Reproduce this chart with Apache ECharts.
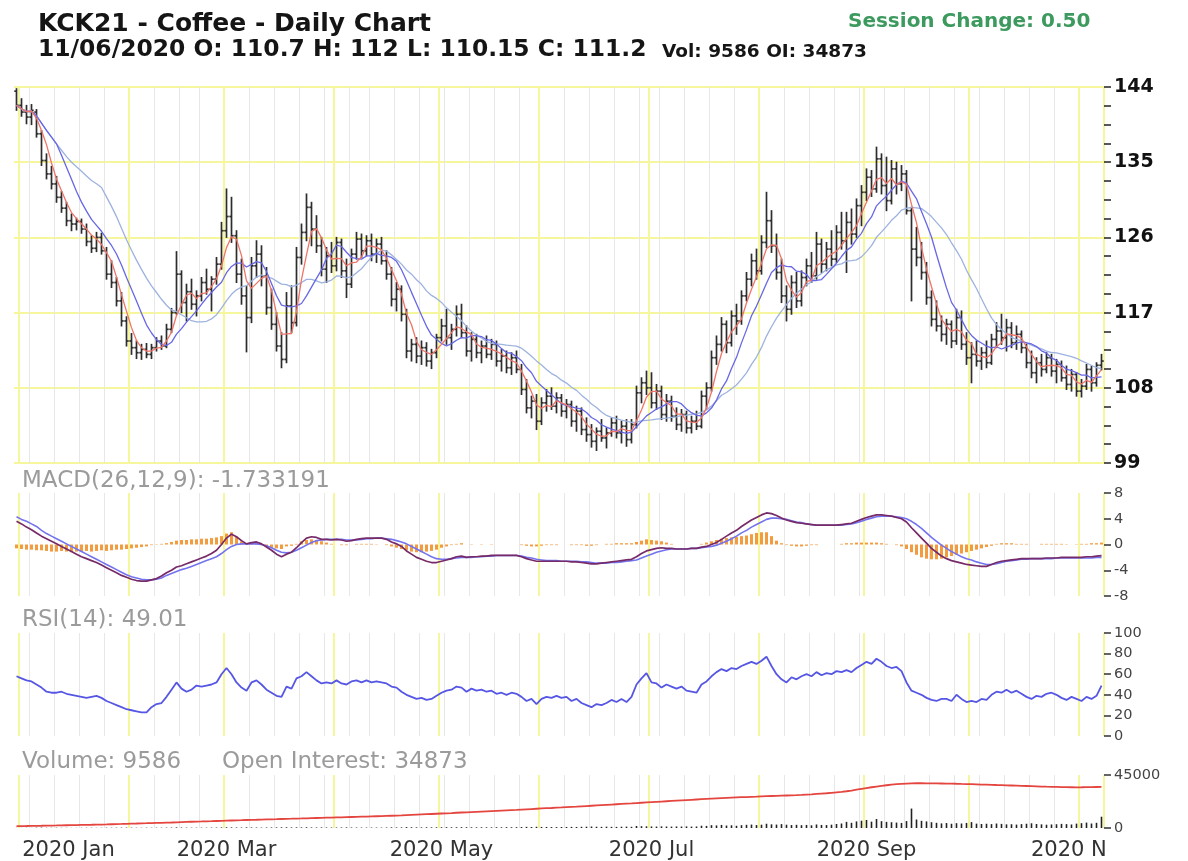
<!DOCTYPE html>
<html><head><meta charset="utf-8">
<script src="https://cdn.jsdelivr.net/npm/echarts/dist/echarts.min.js"></script>
<style>html,body{margin:0;padding:0;background:#fff}#c{width:1188px;height:861px}</style>
</head><body><div id="c"></div>
<script>
// ---- calendar (trading days) ----
const holidays = ['2020-01-01','2020-02-17','2020-04-10','2020-05-25','2020-07-03','2020-09-07'];
const firstDay = '2019-12-31', lastDay = '2020-11-06';
const monthNames = ['Jan','Feb','Mar','Apr','May','Jun','Jul','Aug','Sep','Oct','Nov','Dec'];

// ---- price bars (KCK21) ----
const opens = [
143.5,141.8,141.0,140.4,141.0,138.4,135.2,133.6,132.4,130.8,
129.5,128.0,127.6,127.9,127.0,125.5,124.7,126.0,124.4,121.6,
120.6,118.4,116.0,113.6,112.8,112.2,112.6,112.0,112.8,113.6,
113.0,115.0,117.0,121.6,118.2,119.5,118.0,119.0,120.6,119.8,
121.0,122.8,126.8,128.5,126.2,121.6,119.0,116.4,122.6,124.0,
121.4,117.6,115.6,113.0,111.4,117.8,115.8,123.6,126.6,129.6,
127.0,125.0,122.2,123.8,122.6,125.4,122.0,120.4,124.0,125.8,
124.4,125.6,124.0,125.2,123.2,121.6,118.6,119.8,116.8,112.4,
113.2,111.8,112.8,111.2,112.2,114.0,115.4,114.0,115.0,116.8,
114.6,112.4,113.8,112.2,113.0,112.0,113.2,111.2,111.8,110.4,
111.6,110.2,107.8,105.6,106.4,104.0,106.2,107.0,105.8,106.8,
105.2,106.0,104.0,105.2,103.0,102.4,101.6,102.8,102.0,102.6,
103.8,102.6,103.4,101.8,103.6,107.4,108.6,108.0,106.2,107.6,
104.8,106.4,104.6,103.6,104.8,103.2,104.0,103.4,107.0,108.0,
111.6,113.2,115.6,113.4,116.6,116.0,119.0,121.0,123.2,122.0,
125.4,128.0,125.0,121.8,119.0,117.4,120.6,118.4,121.2,122.6,
121.4,125.2,122.8,124.6,123.4,126.6,125.6,127.8,126.4,129.8,
131.4,133.2,131.8,135.4,132.2,130.4,134.2,132.4,133.6,129.2,
124.6,123.6,121.8,118.8,116.2,115.4,114.4,115.6,113.6,116.4,
113.2,111.6,112.0,111.2,112.2,111.0,113.8,114.8,114.0,115.2,
113.4,114.4,112.8,111.0,109.8,111.0,110.2,111.6,110.0,110.8,
109.2,108.4,109.6,107.6,108.2,110.2,108.6,110.7];
const highs = [
143.8,142.6,141.8,141.9,141.3,138.8,136.0,134.5,133.3,131.5,
130.2,128.8,128.3,128.2,127.6,126.2,126.6,126.5,124.8,123.2,
121.2,119.4,116.5,114.5,113.6,113.2,113.3,113.2,114.0,114.2,
115.6,117.5,124.3,122.0,120.4,121.0,119.6,121.2,122.2,121.3,
123.6,127.8,131.8,130.8,126.8,123.4,120.2,123.6,125.6,125.0,
122.4,119.8,117.0,114.6,119.4,120.2,124.8,127.6,131.2,130.2,
128.6,126.0,124.8,125.4,126.0,125.8,123.4,124.6,126.6,126.4,
126.2,126.4,125.8,126.0,124.4,122.4,120.6,120.2,117.4,113.8,
114.0,113.6,113.4,112.6,114.4,116.2,117.4,115.6,117.8,118.0,
115.4,114.6,114.4,113.6,114.2,113.8,113.6,112.6,112.4,112.2,
112.4,110.8,109.0,107.0,107.2,106.8,107.8,108.0,107.4,107.2,
106.6,106.4,105.8,105.6,104.4,103.6,103.2,104.2,103.2,104.4,
104.6,104.0,104.2,104.2,108.2,109.2,110.0,109.8,108.4,108.2,
107.2,107.0,105.6,105.4,105.2,104.6,105.2,107.6,108.6,112.4,
114.2,116.4,116.0,117.2,118.0,119.6,121.8,124.0,124.6,126.2,
131.4,129.2,126.4,123.4,120.2,121.4,121.8,122.0,123.4,124.2,
126.6,125.8,125.4,126.8,127.4,129.0,129.0,129.4,130.6,132.2,
134.2,134.0,136.8,136.0,135.6,135.2,135.0,134.6,134.0,129.6,
127.2,125.4,123.0,119.6,118.4,116.6,116.2,116.0,117.4,117.2,
114.6,113.4,113.6,112.8,113.6,114.4,115.8,116.8,116.2,115.8,
115.4,114.8,113.2,112.4,111.6,112.0,112.2,112.0,111.4,111.2,
110.6,110.2,109.8,109.0,110.8,110.6,111.0,112.0];
const lows = [
141.2,140.5,139.6,139.5,138.0,134.6,133.0,131.8,130.2,129.0,
127.4,126.8,126.9,126.5,125.0,124.2,124.3,124.0,121.0,120.0,
117.8,115.4,113.0,112.0,111.5,111.4,111.6,111.5,112.4,112.6,
112.8,114.6,116.8,117.0,116.0,117.4,116.6,118.4,119.2,117.2,
120.4,122.2,126.0,125.4,120.6,118.0,112.3,115.8,121.2,120.2,
116.8,115.0,112.4,110.4,111.0,114.6,115.4,122.8,125.6,125.0,
124.2,121.4,120.6,121.8,122.0,121.2,118.8,120.0,123.4,123.6,
123.8,123.2,123.0,122.8,121.0,117.8,117.2,116.0,111.6,111.2,
111.0,110.8,110.6,110.3,111.6,113.6,113.2,112.6,114.2,114.0,
111.8,111.2,111.6,111.0,111.6,111.4,110.6,110.0,109.8,109.6,
109.8,107.2,105.0,104.4,103.0,103.6,105.2,105.4,105.0,104.6,
104.4,103.4,102.8,102.4,101.6,100.9,100.5,101.6,100.8,102.2,
102.0,101.4,101.0,101.4,103.2,106.2,107.2,105.6,105.4,104.2,
104.0,104.0,103.0,102.8,102.6,102.6,103.0,103.2,105.4,107.6,
110.8,112.4,112.2,113.0,114.4,115.6,118.4,120.2,121.0,121.6,
124.8,124.2,121.0,118.2,116.0,116.8,117.6,117.8,120.2,120.6,
121.0,121.8,122.0,122.6,123.0,124.6,121.8,125.2,126.0,127.4,
130.4,130.9,131.4,131.2,129.2,130.0,131.2,131.6,128.8,118.4,
122.6,121.0,118.0,115.4,114.8,113.6,113.2,112.8,113.2,112.6,
110.8,108.6,110.6,110.2,110.4,110.8,112.8,113.2,112.4,112.8,
112.6,112.2,110.4,109.2,108.6,109.4,109.8,109.4,108.6,108.8,
107.8,107.6,107.0,106.9,107.8,107.6,108.2,110.15];
const closes = [
141.8,141.0,140.4,141.2,138.4,135.2,133.6,132.4,130.8,129.5,
128.0,127.6,127.9,127.0,125.5,124.7,126.0,124.4,121.6,120.6,
118.4,116.0,113.6,112.8,112.2,112.6,112.0,112.8,113.6,113.0,
115.0,117.0,121.6,118.2,119.5,118.0,119.0,120.6,119.8,121.0,
122.8,126.8,128.5,126.2,121.6,119.0,116.4,122.6,124.0,121.4,
117.6,115.6,113.0,111.4,117.8,115.8,123.6,126.6,129.6,127.0,
125.0,122.2,123.8,122.6,125.4,122.0,120.4,124.0,125.8,124.4,
125.6,124.0,125.2,123.2,121.6,118.6,119.8,116.8,112.4,113.2,
111.8,112.8,111.2,112.2,114.0,115.4,114.0,115.0,116.8,114.6,
112.4,113.8,112.2,113.0,112.0,113.2,111.2,111.8,110.4,111.6,
110.2,107.8,105.6,106.4,104.0,106.2,107.0,105.8,106.8,105.2,
106.0,104.0,105.2,103.0,102.4,101.6,102.8,102.0,102.6,103.8,
102.6,103.4,101.8,103.6,107.4,108.6,108.0,106.2,107.6,104.8,
106.4,104.6,103.6,104.8,103.2,104.0,103.4,107.0,108.0,111.6,
113.2,115.6,113.4,116.6,116.0,119.0,121.0,123.2,122.0,125.4,
128.0,125.0,121.8,119.0,117.4,120.6,118.4,121.2,122.6,121.4,
125.2,122.8,124.6,123.4,126.6,125.6,127.8,126.4,129.8,131.4,
133.2,131.8,135.4,132.2,130.4,134.2,132.4,133.6,129.2,124.6,
123.6,121.8,118.8,116.2,115.4,114.4,115.6,113.6,116.4,113.2,
111.6,112.0,111.2,112.2,111.0,113.8,114.8,114.0,115.2,113.4,
114.4,112.8,111.0,109.8,111.0,110.2,111.6,110.0,110.8,109.2,
108.4,109.6,107.6,108.2,110.2,108.6,110.7,111.2];
const maPeriods = [18, 9, 4];

// ---- MACD(26,12,9) ----
const macdLine = [
3.6,3.2,2.7,2.3,1.8,1.3,0.9,0.5,0.1,-0.3,
-0.7,-1.1,-1.5,-1.9,-2.2,-2.5,-2.8,-3.2,-3.6,-4.0,
-4.4,-4.8,-5.1,-5.4,-5.6,-5.7,-5.7,-5.5,-5.3,-4.9,
-4.4,-4.0,-3.5,-3.3,-3.0,-2.7,-2.4,-2.1,-1.8,-1.4,
-0.9,0.0,1.0,1.6,1.2,0.6,0.1,0.3,0.4,0.1,
-0.4,-0.9,-1.5,-1.9,-1.5,-1.2,-0.5,0.3,1.0,1.2,
1.1,0.8,0.8,0.7,0.8,0.7,0.5,0.6,0.8,0.9,
1.0,1.0,1.0,1.0,0.8,0.4,0.1,-0.3,-1.0,-1.5,
-2.0,-2.3,-2.6,-2.8,-2.8,-2.6,-2.4,-2.2,-1.9,-1.8,
-2.0,-1.9,-1.9,-1.8,-1.8,-1.7,-1.7,-1.7,-1.7,-1.7,
-1.7,-1.9,-2.2,-2.4,-2.6,-2.6,-2.6,-2.6,-2.6,-2.6,
-2.6,-2.7,-2.7,-2.8,-2.9,-3.0,-3.0,-2.9,-2.8,-2.7,
-2.6,-2.5,-2.4,-2.3,-1.9,-1.4,-1.0,-0.8,-0.6,-0.5,
-0.6,-0.6,-0.7,-0.7,-0.7,-0.6,-0.6,-0.4,-0.3,0.0,
0.3,0.8,1.3,1.8,2.2,2.8,3.3,3.8,4.2,4.6,
4.9,4.8,4.5,4.1,3.8,3.6,3.4,3.3,3.2,3.1,
3.0,3.0,3.0,3.0,3.0,3.1,3.2,3.3,3.6,3.9,
4.2,4.4,4.6,4.6,4.5,4.4,4.2,4.0,3.5,2.6,
1.8,1.0,0.2,-0.6,-1.2,-1.8,-2.2,-2.5,-2.7,-2.9,
-3.1,-3.2,-3.3,-3.4,-3.4,-3.1,-2.8,-2.6,-2.5,-2.4,
-2.3,-2.2,-2.2,-2.2,-2.2,-2.2,-2.1,-2.1,-2.1,-2.0,
-2.0,-2.0,-2.0,-2.0,-1.9,-1.9,-1.8,-1.73];
const signalLine = [
4.3,3.9,3.6,3.2,2.8,2.2,1.7,1.3,0.9,0.5,
0.1,-0.3,-0.7,-1.1,-1.5,-1.9,-2.3,-2.7,-3.1,-3.5,
-3.9,-4.3,-4.7,-5.0,-5.2,-5.4,-5.5,-5.5,-5.4,-5.2,
-4.8,-4.5,-4.2,-3.9,-3.7,-3.4,-3.1,-2.8,-2.5,-2.2,
-1.9,-1.4,-0.8,-0.3,0.0,0.1,0.1,0.1,0.1,0.0,
-0.2,-0.5,-0.9,-1.2,-1.3,-1.2,-0.9,-0.5,-0.1,0.3,
0.6,0.7,0.8,0.8,0.8,0.8,0.7,0.7,0.7,0.8,
0.9,0.9,1.0,1.0,0.9,0.8,0.6,0.4,0.1,-0.3,
-0.7,-1.1,-1.5,-1.9,-2.2,-2.3,-2.3,-2.2,-2.1,-2.0,
-2.0,-2.0,-1.9,-1.9,-1.8,-1.8,-1.7,-1.7,-1.7,-1.7,
-1.7,-1.8,-2.0,-2.1,-2.3,-2.4,-2.5,-2.5,-2.5,-2.6,
-2.6,-2.6,-2.6,-2.7,-2.7,-2.8,-2.9,-2.9,-2.9,-2.8,
-2.8,-2.7,-2.6,-2.5,-2.4,-2.1,-1.8,-1.5,-1.2,-1.0,
-0.8,-0.7,-0.7,-0.7,-0.7,-0.6,-0.6,-0.5,-0.4,-0.3,
-0.1,0.2,0.5,0.9,1.3,1.8,2.2,2.7,3.1,3.5,
3.9,4.1,4.1,4.0,3.9,3.7,3.5,3.4,3.2,3.1,
3.0,3.0,3.0,3.0,3.0,3.0,3.1,3.2,3.4,3.6,
3.9,4.1,4.3,4.4,4.4,4.4,4.3,4.2,4.0,3.6,
3.1,2.5,1.8,1.1,0.5,-0.1,-0.6,-1.1,-1.5,-1.9,
-2.2,-2.4,-2.7,-2.9,-3.1,-3.1,-3.0,-2.8,-2.6,-2.5,
-2.4,-2.3,-2.3,-2.2,-2.2,-2.2,-2.2,-2.2,-2.1,-2.1,
-2.1,-2.1,-2.1,-2.1,-2.1,-2.1,-2.0,-2.0];
const macdHist = [
-0.6,-0.7,-0.8,-0.8,-0.9,-0.9,-1.0,-1.1,-1.1,-1.0,
-1.1,-1.2,-1.1,-1.1,-1.0,-1.1,-1.0,-0.9,-1.0,-0.9,
-0.8,-0.8,-0.7,-0.6,-0.5,-0.4,-0.3,-0.1,0.05,0.1,
0.2,0.4,0.6,0.7,0.7,0.8,0.8,0.9,0.9,1.0,
1.1,1.3,1.7,1.9,1.2,0.5,0.1,0.2,0.2,-0.1,
-0.3,-0.5,-0.6,-0.7,-0.3,-0.2,0.1,0.5,0.7,0.8,
0.7,0.5,0.3,0.1,0.0,-0.1,-0.1,0.0,0.1,0.1,
0.1,0.1,0.05,0.0,-0.1,-0.3,-0.5,-0.7,-0.9,-1.1,
-1.2,-1.2,-1.1,-1.0,-0.8,-0.5,-0.3,-0.1,0.1,0.2,
0.0,0.05,0.0,0.05,0.0,0.05,0.0,0.0,0.0,0.0,
0.0,-0.1,-0.2,-0.3,-0.3,-0.2,-0.1,-0.1,-0.1,0.0,
0.0,-0.1,-0.1,-0.1,-0.2,-0.2,-0.1,0.0,0.1,0.1,
0.2,0.2,0.2,0.2,0.4,0.6,0.8,0.7,0.6,0.5,
0.3,0.1,0.0,0.0,0.0,0.0,0.0,0.1,0.3,0.5,
0.7,0.9,1.0,1.1,1.2,1.3,1.4,1.6,1.8,1.9,
1.9,1.3,0.6,0.2,-0.1,-0.2,-0.3,-0.3,-0.2,-0.1,
-0.1,0.0,0.0,0.0,0.0,0.1,0.2,0.2,0.3,0.3,
0.3,0.3,0.3,0.2,0.1,0.0,-0.1,-0.3,-0.7,-1.2,
-1.6,-2.0,-2.2,-2.3,-2.3,-2.2,-2.0,-1.8,-1.6,-1.4,
-1.2,-1.0,-0.8,-0.6,-0.4,-0.2,0.1,0.2,0.2,0.2,
0.1,0.1,0.1,0.0,0.0,0.1,0.1,0.1,0.1,0.1,
0.05,0.0,0.05,0.1,0.1,0.2,0.2,0.3];

// ---- RSI(14) ----
const rsiValues = [
58,56,54,53,50,47,43,42,42,43,
41,40,39,38,37,38,39,37,34,32,
30,28,26,25,24,23,23,28,31,32,
38,45,52,46,43,45,49,48,49,50,
52,60,66,60,52,47,44,52,54,50,
45,42,39,38,48,46,56,58,62,58,
54,51,52,51,54,51,50,53,54,52,
54,52,53,52,51,48,47,43,40,38,
36,37,35,36,39,42,44,45,48,47,
43,46,44,45,43,44,41,42,40,42,
41,38,34,36,31,36,38,37,39,37,
38,34,36,32,30,28,31,30,32,35,
33,36,33,38,50,56,61,52,51,47,
50,48,46,48,44,43,42,50,53,58,
62,65,63,66,65,68,70,72,70,73,
77,68,60,55,52,57,55,58,60,58,
62,59,61,60,63,62,64,62,66,69,
72,70,75,72,68,66,67,63,52,44,
42,40,37,35,34,36,36,34,40,36,
33,34,33,36,35,40,43,42,45,42,
44,41,38,36,39,38,41,42,40,37,
35,38,36,34,38,36,39,49.01];

// ---- Volume & Open Interest ----
const volumes = [
120,90,150,110,260,310,200,180,240,170,
150,130,110,160,210,190,140,170,280,230,
260,300,340,280,220,190,250,210,230,260,
310,350,520,380,300,260,240,290,270,330,
360,480,610,520,440,380,560,470,400,350,
420,460,510,580,620,480,560,530,610,470,
440,500,420,380,410,450,520,430,390,360,
340,380,360,350,420,560,480,520,780,640,
560,520,600,540,580,620,700,580,650,720,
680,600,560,620,580,540,660,600,720,650,
700,820,980,860,1040,900,880,820,760,840,
900,960,880,1020,1100,1240,1060,980,1120,1000,
940,1080,1160,1020,1680,1520,1400,1300,1220,1380,
1260,1180,1300,1240,1360,1200,1280,1900,1760,2400,
2200,2600,2100,2300,1900,2400,2700,2900,2500,2800,
3600,3100,2900,3300,2800,2500,2700,2400,2600,2300,
3000,2600,2500,2800,3400,3800,5200,4400,5600,6200,
6800,5400,7600,5800,5200,4900,4600,4300,5900,16500,
7200,6100,5600,4900,4400,3900,4200,3600,4100,3800,
4300,5000,3700,3400,3600,3300,3800,3500,3100,3200,
2900,3300,3600,4000,3400,3100,2800,3000,3200,3500,
3300,3000,3700,4100,4600,3800,4400,9586];
const openInterest = [
1600,1650,1700,1780,1850,1900,2000,2080,2150,2260,
2350,2420,2500,2600,2680,2750,2830,2950,3050,3180,
3300,3420,3550,3700,3820,3950,4060,4180,4300,4420,
4550,4680,4850,5000,5150,5300,5450,5550,5680,5800,
5950,6100,6250,6380,6500,6620,6780,6900,7020,7150,
7280,7400,7520,7650,7780,7880,8000,8120,8250,8380,
8500,8620,8740,8860,8980,9100,9230,9360,9480,9600,
9720,9850,9980,10100,10250,10400,10550,10700,10900,11100,
11300,11500,11700,11900,12100,12300,12500,12700,12950,13150,
13350,13550,13750,13950,14150,14350,14550,14750,14950,15150,
15350,15600,15850,16100,16350,16600,16800,17000,17250,17450,
17700,17950,18150,18400,18650,18900,19150,19400,19650,19900,
20150,20400,20650,20900,21200,21450,21700,21950,22200,22450,
22700,22950,23200,23450,23700,23950,24200,24450,24700,24950,
25150,25350,25550,25750,25950,26150,26300,26450,26600,26800,
27000,27150,27300,27450,27600,27750,27900,28100,28350,28600,
28900,29200,29500,29900,30300,30700,31200,31800,32500,33200,
33900,34600,35200,35800,36300,36800,37200,37500,37700,37900,
38000,38000,37900,37950,37850,37800,37700,37650,37550,37400,
37300,37200,37050,36900,36800,36650,36500,36400,36250,36100,
35950,35800,35650,35500,35350,35200,35050,34950,34850,34750,
34650,34600,34550,34600,34700,34750,34820,34873];

// ---- axis ticks ----
const priceRange = [99, 144], priceMinorStep = 2.25, priceLabelStep = 9;
const macdRange = [-8, 8], macdStep = 4;
const rsiRange = [0, 100], rsiStep = 20;
const volRange = [0, 45000];

// ================= build =================
const dates = [];
for (let t = Date.parse(firstDay + 'T00:00:00Z'); t <= Date.parse(lastDay + 'T00:00:00Z'); t += 86400000) {
  const d = new Date(t), wd = d.getUTCDay(), s = d.toISOString().slice(0, 10);
  if (wd === 0 || wd === 6 || holidays.includes(s)) continue;
  dates.push(s);
}
const monthStart = dates.map((d, i) => i > 0 && d.slice(5, 7) !== dates[i - 1].slice(5, 7));
const weekStart = dates.map((d, i) => i > 0 && new Date(d + 'T00:00:00Z').getUTCDay() <= new Date(dates[i - 1] + 'T00:00:00Z').getUTCDay());

function sma(src, n) {
  return src.map((_, i) => {
    const s = Math.max(0, i - n + 1); let sum = 0;
    for (let k = s; k <= i; k++) sum += src[k];
    return +(sum / (i - s + 1)).toFixed(3);
  });
}
const ohlc = dates.map((d, i) => [i, opens[i], highs[i], lows[i], closes[i]]);

const FONT = '"DejaVu Sans", Verdana, sans-serif';
const YELLOW = '#f6f69c', GRAYLINE = '#e7e7e7';
const L = 14, W = 1090;
const grids = [
  { left: L, width: W, top: 87, height: 376 },
  { left: L, width: W, top: 493, height: 103 },
  { left: L, width: W, top: 633, height: 103 },
  { left: L, width: W, top: 775, height: 53 }
];

const xAxes = [];
grids.forEach((g, gi) => {
  xAxes.push({
    type: 'category', gridIndex: gi, position: 'bottom', data: dates, boundaryGap: true,
    axisLine: { show: false }, axisTick: { show: false }, axisLabel: { show: false },
    splitLine: { show: true, interval: (i) => weekStart[i], lineStyle: { color: GRAYLINE, width: 1 } }
  });
  const last = gi === grids.length - 1;
  xAxes.push({
    type: 'category', gridIndex: gi, position: 'bottom', data: dates, boundaryGap: true,
    axisLine: { show: false }, axisTick: { show: false },
    axisLabel: last ? {
      show: true, margin: 12, color: '#333', fontSize: 21, fontFamily: FONT,
      interval: (i) => monthStart[i] && ((+dates[i].slice(5, 7) - 1) % 2 === 0),
      formatter: (v) => {
        const m = +v.slice(5, 7) - 1, txt = v.slice(0, 4) + ' ' + monthNames[m];
        return m === 0 ? '{j|' + txt + '}' : txt;
      },
      rich: { j: { fontSize: 21, color: '#333', fontFamily: FONT, padding: [0, 0, 0, 94] } }
    } : { show: false },
    splitLine: { show: true, interval: (i) => monthStart[i], lineStyle: { color: YELLOW, width: 2 } }
  });
});

const smallLabel = { color: '#444', fontSize: 14.5, fontFamily: FONT, margin: 10, formatter: (v) => String(v) };
const smallTick = { show: true, length: 7, lineStyle: { color: '#333', width: 1.5 } };
const yAxes = [
  { type: 'value', gridIndex: 0, position: 'right', min: priceRange[0], max: priceRange[1], interval: priceMinorStep,
    axisLine: { show: false }, axisTick: { show: true, length: 7, lineStyle: { color: '#222', width: 1.5 } },
    axisLabel: { margin: 10, color: '#111', fontWeight: 'bold', fontSize: 19, fontFamily: FONT,
      formatter: (v) => Number.isInteger((v - priceRange[0]) / priceLabelStep) ? String(v) : '' },
    splitLine: { show: false } },
  { type: 'value', gridIndex: 0, position: 'right', min: priceRange[0], max: priceRange[1], interval: priceLabelStep,
    axisLine: { show: false }, axisTick: { show: false }, axisLabel: { show: false },
    splitLine: { show: true, lineStyle: { color: YELLOW, width: 2 } } },
  { type: 'value', gridIndex: 1, position: 'right', min: macdRange[0], max: macdRange[1], interval: macdStep,
    axisLine: { show: false }, axisTick: smallTick, axisLabel: smallLabel, splitLine: { show: false } },
  { type: 'value', gridIndex: 2, position: 'right', min: rsiRange[0], max: rsiRange[1], interval: rsiStep,
    axisLine: { show: false }, axisTick: smallTick, axisLabel: smallLabel, splitLine: { show: false } },
  { type: 'value', gridIndex: 3, position: 'right', min: volRange[0], max: volRange[1], interval: volRange[1],
    axisLine: { show: false }, axisTick: smallTick, axisLabel: smallLabel, splitLine: { show: false } }
];

const maColors = ['#9db2df', '#6767e6', '#ef7468'];
const series = [
  { type: 'custom', name: 'KCK21', xAxisIndex: 0, yAxisIndex: 0, data: ohlc, encode: { x: 0, y: [1, 2, 3, 4] }, z: 3,
    renderItem: (params, api) => {
      const i = api.value(0);
      const o = api.coord([i, api.value(1)]), h = api.coord([i, api.value(2)]),
            l = api.coord([i, api.value(3)]), c = api.coord([i, api.value(4)]);
      const st = { stroke: '#2d2d2d', lineWidth: 1.7 };
      return { type: 'group', children: [
        { type: 'line', shape: { x1: h[0], y1: h[1] - 0.5, x2: l[0], y2: l[1] + 0.5 }, style: st },
        { type: 'line', shape: { x1: o[0] - 2.2, y1: o[1], x2: o[0], y2: o[1] }, style: st },
        { type: 'line', shape: { x1: c[0], y1: c[1], x2: c[0] + 2.2, y2: c[1] }, style: st }
      ] };
    } }
];
maPeriods.forEach((p, k) => series.push({
  type: 'line', name: 'MA' + p, xAxisIndex: 0, yAxisIndex: 0, data: sma(closes, p),
  symbol: 'none', lineStyle: { color: maColors[k], width: 1.3 }, z: 4 + k
}));
series.push(
  { type: 'bar', name: 'Hist', xAxisIndex: 2, yAxisIndex: 2, data: macdHist, barWidth: 3, itemStyle: { color: '#f39b3f' }, z: 2 },
  { type: 'line', name: 'Signal', xAxisIndex: 2, yAxisIndex: 2, data: signalLine, symbol: 'none', lineStyle: { color: '#7373ef', width: 1.6 }, z: 3 },
  { type: 'line', name: 'MACD', xAxisIndex: 2, yAxisIndex: 2, data: macdLine, symbol: 'none', lineStyle: { color: '#762a68', width: 1.7 }, z: 4 },
  { type: 'line', name: 'RSI', xAxisIndex: 4, yAxisIndex: 3, data: rsiValues, symbol: 'none', lineStyle: { color: '#5656e4', width: 1.8 } },
  { type: 'bar', name: 'Volume', xAxisIndex: 6, yAxisIndex: 4, data: volumes, barWidth: 1.6, itemStyle: { color: '#222' } },
  { type: 'line', name: 'Open Interest', xAxisIndex: 6, yAxisIndex: 4, data: openInterest, symbol: 'none', lineStyle: { color: '#e4463f', width: 1.8 } }
);

const txt = (x, y, text, font, fill) => ({ type: 'text', x, y, z: 50,
  style: { text, font, fill, verticalAlign: 'middle', align: 'left' } });
const graphic = [
  txt(38, 24, 'KCK21 - Coffee - Daily Chart', 'bold 25px ' + FONT, '#151515'),
  txt(38, 50, '11/06/2020 O: 110.7 H: 112 L: 110.15 C: 111.2', 'bold 23.4px ' + FONT, '#151515'),
  txt(662, 52, 'Vol: 9586 OI: 34873', 'bold 18.5px ' + FONT, '#151515'),
  txt(848, 22, 'Session Change: 0.50', 'bold 20px ' + FONT, '#3c9a5e'),
  txt(22, 481, 'MACD(26,12,9): -1.733191', '23px ' + FONT, '#9b9b9b'),
  txt(22, 620, 'RSI(14): 49.01', '23px ' + FONT, '#9b9b9b'),
  txt(22, 762, 'Volume: 9586', '23px ' + FONT, '#9b9b9b'),
  txt(222, 762, 'Open Interest: 34873', '23px ' + FONT, '#9b9b9b'),
  { type: 'rect', z: 100, shape: { x: 1108, y: 839, width: 80, height: 22 }, style: { fill: '#fff' } }
];

const chart = echarts.init(document.getElementById('c'), null, { renderer: 'canvas' });
chart.setOption({
  backgroundColor: '#fff', animation: false,
  grid: grids, xAxis: xAxes, yAxis: yAxes, series, graphic
});
</script></body></html>
